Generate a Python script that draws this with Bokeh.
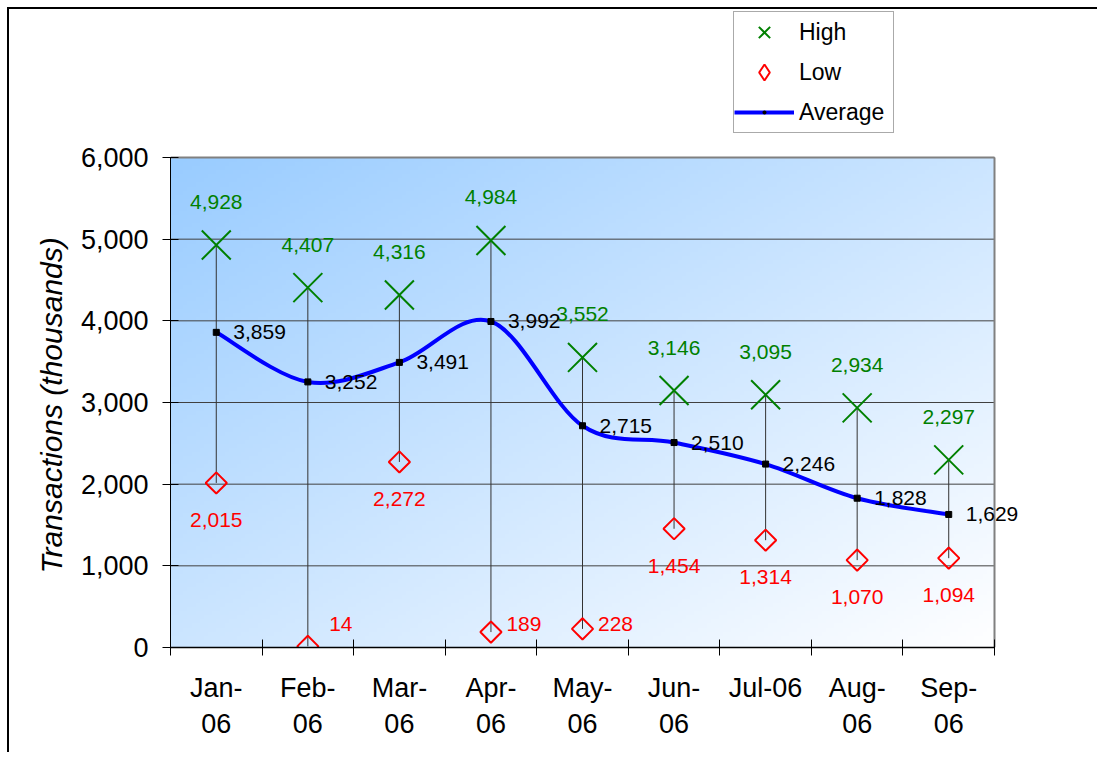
import numpy as np
from bokeh.plotting import figure
from bokeh.models import (FixedTicker, NumeralTickFormatter, Legend, LegendItem,
                          Range1d, Title)
from bokeh.core.properties import value
from bokeh.embed import file_html
from bokeh.resources import INLINE

months = ["Jan-\n06", "Feb-\n06", "Mar-\n06", "Apr-\n06", "May-\n06",
          "Jun-\n06", "Jul-06", "Aug-\n06", "Sep-\n06"]
high = [4928, 4407, 4316, 4984, 3552, 3146, 3095, 2934, 2297]
low = [2015, 14, 2272, 189, 228, 1454, 1314, 1070, 1094]
average = [3859, 3252, 3491, 3992, 2715, 2510, 2246, 1828, 1629]
y_ticks = [0, 1000, 2000, 3000, 4000, 5000, 6000]

FONT = "Liberation Sans"
n = len(months)
xs = list(range(n))
x_lo, x_hi = -0.5, n - 0.5
y_top = y_ticks[-1]

# layout in pixels
FIG_W, FIG_H = 1090, 745
B_LEFT, B_BOTTOM = 161, 107
AREA_W, AREA_H = 824, 490          # plotting area (gradient box)
frame_w = FIG_W - B_LEFT
frame_h = FIG_H - B_BOTTOM
x_end = x_lo + (x_hi - x_lo) * frame_w / AREA_W
y_end = y_top * frame_h / AREA_H

p = figure(width=FIG_W, height=FIG_H, output_backend="svg", toolbar_location=None,
           x_range=Range1d(x_lo, x_end), y_range=Range1d(0, y_end),
           min_border_left=B_LEFT, min_border_top=0, min_border_right=0,
           min_border_bottom=B_BOTTOM)
p.styles = {"border-top": "2px solid black", "border-left": "2px solid black",
            "margin-left": "7px", "margin-top": "7px"}
p.background_fill_color = "white"
p.border_fill_color = "white"
p.outline_line_color = None

# gradient background of the plot area
H, W = 120, 200
u = np.linspace(0, 1, W)[None, :]
v = np.linspace(1, 0, H)[:, None]
t = (u + v) / 2.0
c0 = np.array([153, 204, 255], dtype=float)
c1 = np.array([255, 255, 255], dtype=float)
img = np.empty((H, W), dtype=np.uint32)
view = img.view(dtype=np.uint8).reshape((H, W, 4))
for k in range(3):
    view[:, :, k] = (c0[k] + (c1[k] - c0[k]) * t).astype(np.uint8)
view[:, :, 3] = 255
p.image_rgba(image=[img], x=x_lo, y=0, dw=x_hi - x_lo, dh=y_top, level="image")

# grid lines (limited to the plot area)
p.xgrid.grid_line_color = None
p.ygrid.grid_line_color = None
p.segment(x0=[x_lo] * len(y_ticks), y0=y_ticks, x1=[x_hi] * len(y_ticks), y1=y_ticks,
          line_color="#404040", line_width=1, level="underlay")
# plot area outline (top and right)
p.segment(x0=[x_lo, x_hi], y0=[y_top, 0], x1=[x_hi, x_hi], y1=[y_top, y_top],
          line_color="#808080", line_width=2, level="underlay")

# axes
p.yaxis.bounds = (0, y_top)
p.yaxis.ticker = FixedTicker(ticks=y_ticks)
p.yaxis.formatter = NumeralTickFormatter(format="0,0")
p.yaxis.major_tick_in = 8
p.yaxis.major_tick_out = 8
p.yaxis.minor_tick_line_color = None
p.yaxis.axis_line_color = "black"
p.yaxis.major_tick_line_color = "black"
p.yaxis.major_label_text_font = FONT
p.yaxis.major_label_text_font_size = "27px"
p.yaxis.major_label_text_color = "black"
p.yaxis.major_label_standoff = 14

# y axis title, placed along the 0..6000 plot area
ytitle = Title(text="Transactions (thousands)", text_font=FONT,
               text_font_size="30px", text_font_style="italic",
               text_color="black", align="left", offset=74, standoff=20)
p.add_layout(ytitle, "left")

p.xaxis.bounds = (x_lo, x_hi)
p.xaxis.ticker = FixedTicker(ticks=xs, minor_ticks=[i - 0.5 for i in range(n + 1)])
p.xaxis.major_label_overrides = {i: m for i, m in enumerate(months)}
p.xaxis.major_tick_in = 0
p.xaxis.major_tick_out = 0
p.xaxis.minor_tick_in = 8
p.xaxis.minor_tick_out = 8
p.xaxis.minor_tick_line_color = "black"
p.xaxis.axis_line_color = "black"
p.xaxis.axis_line_width = 1.5
p.xaxis.major_label_text_font = FONT
p.xaxis.major_label_text_font_size = "27px"
p.xaxis.major_label_text_color = "black"
p.xaxis.major_label_standoff = 17

# high-low lines
p.segment(x0=xs, y0=low, x1=xs, y1=high, line_color="#333333", line_width=1)

# smoothed average line (Bezier through the data points)
bx0, by0, bx1, by1, cx0, cy0, cx1, cy1 = [], [], [], [], [], [], [], []
for i in range(n - 1):
    i0 = max(i - 1, 0)
    i3 = min(i + 2, n - 1)
    bx0.append(xs[i]); by0.append(average[i])
    bx1.append(xs[i + 1]); by1.append(average[i + 1])
    cx0.append(xs[i] + (xs[i + 1] - xs[i0]) / 6.0)
    cy0.append(average[i] + (average[i + 1] - average[i0]) / 6.0)
    cx1.append(xs[i + 1] - (xs[i3] - xs[i]) / 6.0)
    cy1.append(average[i + 1] - (average[i3] - average[i]) / 6.0)
avg_curve = p.bezier(x0=bx0, y0=by0, x1=bx1, y1=by1, cx0=cx0, cy0=cy0,
                     cx1=cx1, cy1=cy1, line_color="#0000FF", line_width=4)
p.scatter(xs, average, marker="square", size=6, color="black")

p.scatter(xs, high, marker="x", size=41, line_color="#008000", line_width=2)
p.scatter(xs, low, marker="square", size=15, angle=np.pi / 4,
          line_color="#FF0000", line_width=2, fill_alpha=0)

# legend glyph renderers (size 0: only drawn inside the legend)
hi_leg = p.scatter(xs, high, marker="x", size=0, line_color="#008000", line_width=2)
lo_leg = p.scatter(xs, low, marker="diamond", size=0, line_color="#FF0000",
                   line_width=2, fill_alpha=0)
avg_leg = p.scatter(xs, average, marker="dot", size=0, color="black")

# labels
def fmt(vv):
    return f"{vv:,}"

p.text(x=xs, y=high, text=[fmt(h) for h in high], text_font=value(FONT),
       text_font_size="21px", text_color="#008000", text_align="center",
       text_baseline="middle", y_offset=-43)

lo_big = [i for i in xs if low[i] >= 500]
lo_small = [i for i in xs if low[i] < 500]
p.text(x=lo_big, y=[low[i] for i in lo_big], text=[fmt(low[i]) for i in lo_big],
       text_font=value(FONT), text_font_size="21px", text_color="#FF0000",
       text_align="center", text_baseline="middle", y_offset=37)
p.text(x=lo_small, y=[290] * len(lo_small), text=[fmt(low[i]) for i in lo_small],
       text_font=value(FONT), text_font_size="21px", text_color="#FF0000",
       text_align="center", text_baseline="middle", x_offset=33)

p.text(x=xs, y=average, text=[fmt(a) for a in average], text_font=value(FONT),
       text_font_size="21px", text_color="black", text_align="left",
       text_baseline="middle", x_offset=17)

# legend
legend = Legend(items=[
    LegendItem(label="High", renderers=[hi_leg]),
    LegendItem(label="Low", renderers=[lo_leg]),
    LegendItem(label="Average", renderers=[avg_curve, avg_leg]),
], location=(563, 514))
legend.glyph_width = 60
legend.glyph_height = 40
legend.spacing = 0
legend.padding = 0
legend.margin = 0
legend.label_standoff = 5
legend.label_width = 94
legend.label_text_font = FONT
legend.label_text_font_size = "23px"
legend.label_text_color = "black"
legend.border_line_color = "#555555"
legend.border_line_width = 1
legend.background_fill_color = "white"
legend.background_fill_alpha = 1
p.add_layout(legend, "center")

open("out.html", "w").write(file_html(p, INLINE))
